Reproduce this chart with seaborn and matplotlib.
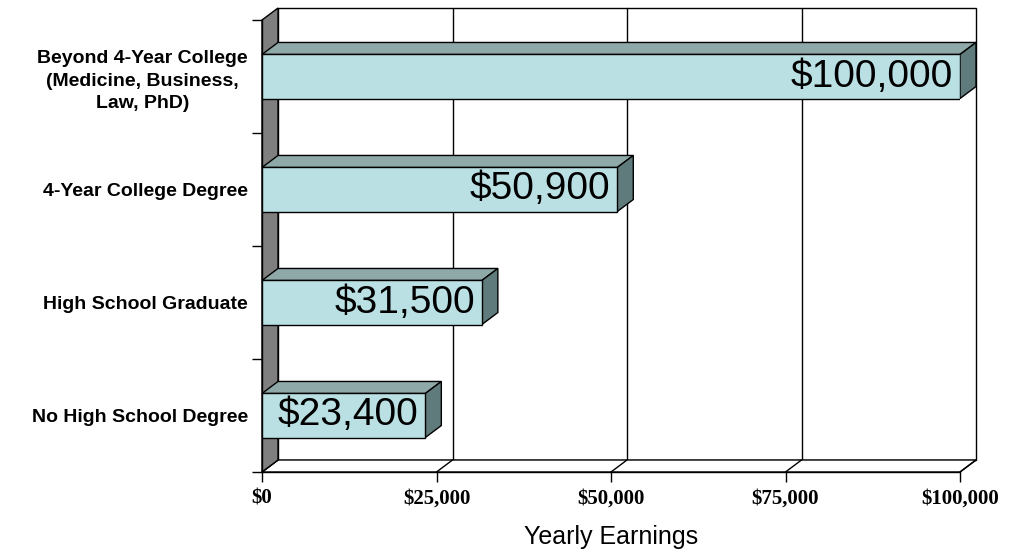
import matplotlib
matplotlib.use("Agg")
import matplotlib.pyplot as plt
import seaborn as sns
import pandas as pd
from matplotlib.patches import Polygon, Rectangle

# Yearly earnings by level of education
categories = [
    "Beyond 4-Year College\n(Medicine, Business,\nLaw, PhD)",
    "4-Year College Degree",
    "High School Graduate",
    "No High School Degree",
]
earnings = [100000, 50900, 31500, 23400]
value_labels = ["$100,000", "$50,900", "$31,500", "$23,400"]
tick_values = [0, 25000, 50000, 75000, 100000]
tick_labels = ["$0", "$25,000", "$50,000", "$75,000", "$100,000"]

FRONT = "#bae0e4"
TOP = "#8fa9a9"
SIDE = "#5f7b7b"
WALL = "#7f7f7f"

sns.set_theme(style="white")
plt.rcParams["font.family"] = ["Liberation Sans", "DejaVu Sans"]
plt.rcParams["text.color"] = "black"
plt.rcParams["xtick.color"] = "black"
plt.rcParams["ytick.color"] = "black"
plt.rcParams["axes.labelcolor"] = "black"

W, H = 1019, 559
fig = plt.figure(figsize=(W / 100, H / 100), dpi=100)
ax_l, ax_r, ax_t, ax_b = 262, 960, 20, 472
ax = fig.add_axes([ax_l / W, (H - ax_b) / H, (ax_r - ax_l) / W, (ax_b - ax_t) / H])

df = pd.DataFrame({"category": categories, "earnings": earnings})
sns.barplot(data=df, x="earnings", y="category", orient="h", color=FRONT,
            saturation=1, edgecolor="black", linewidth=1, width=0.39, ax=ax)
bars = list(ax.patches)

ax.set_xlim(0, 100000)
ax.set_ylim(3.5, -0.5)

# depth of the 3-D box, converted from pixels to data units
DX = 16 / (ax_r - ax_l) * 100000
DY = -12 / (ax_b - ax_t) * 4.0
y_top, y_bot = -0.5, 3.5
x_max = 100000

# back wall with its gridlines
ax.add_patch(Rectangle((DX, y_top + DY), x_max, 4.0, facecolor="white",
                       edgecolor="black", linewidth=1, clip_on=False, zorder=0.5))
for v in tick_values[1:-1]:
    ax.plot([v + DX, v + DX], [y_top + DY, y_bot + DY], color="black",
            linewidth=1, clip_on=False, zorder=0.6)

# floor
ax.add_patch(Polygon([(0, y_bot), (x_max, y_bot), (x_max + DX, y_bot + DY), (DX, y_bot + DY)],
                     closed=True, facecolor="white", edgecolor="black", linewidth=1,
                     clip_on=False, zorder=0.7))
for v in tick_values:
    ax.plot([v, v + DX], [y_bot, y_bot + DY], color="black", linewidth=1,
            clip_on=False, zorder=0.8)

# left side wall
ax.add_patch(Polygon([(0, y_top), (0, y_bot), (DX, y_bot + DY), (DX, y_top + DY)],
                     closed=True, facecolor=WALL, edgecolor="black", linewidth=1,
                     clip_on=False, zorder=0.9))

# extrude each bar: top face and right side face
for p, lab in zip(bars, value_labels):
    x0, w = p.get_x(), p.get_width()
    y0, h = p.get_y(), p.get_height()
    p.set_zorder(5)
    ax.add_patch(Polygon([(x0, y0), (x0 + w, y0), (x0 + w + DX, y0 + DY), (x0 + DX, y0 + DY)],
                         closed=True, facecolor=TOP, edgecolor="black", linewidth=1,
                         clip_on=False, zorder=4))
    ax.add_patch(Polygon([(x0 + w, y0), (x0 + w, y0 + h), (x0 + w + DX, y0 + h + DY),
                          (x0 + w + DX, y0 + DY)],
                         closed=True, facecolor=SIDE, edgecolor="black", linewidth=1,
                         clip_on=False, zorder=4))
    ax.annotate(lab, xy=(x0 + w, y0 + h / 2), xytext=(-5, 0), textcoords="offset points",
                ha="right", va="center", fontsize=28, color="black", zorder=6)

# axes styling
for s in ("top", "right"):
    ax.spines[s].set_visible(False)
for s in ("left", "bottom"):
    ax.spines[s].set_color("black")
    ax.spines[s].set_linewidth(1)
    ax.spines[s].set_zorder(3)

ax.set_xticks(tick_values)
ax.set_xticklabels(tick_labels, family=["Liberation Serif", "DejaVu Serif"],
                   fontweight="bold", fontsize=15, color="black")
ax.tick_params(axis="x", which="major", bottom=True, length=7, width=1,
               color="black", pad=5)

ax.set_yticks(range(len(categories)))
ax.set_yticklabels(categories, fontweight="bold", fontsize=14, linespacing=1.4,
                   multialignment="center", color="black")
ax.tick_params(axis="y", which="major", left=False, length=0, pad=10)
ax.set_yticks([-0.5, 0.5, 1.5, 2.5, 3.5], minor=True)
ax.tick_params(axis="y", which="minor", left=True, length=7, width=1, color="black")

ax.set_ylabel("")
ax.set_xlabel("Yearly Earnings", fontsize=18, labelpad=12, color="black")
ax.set_facecolor("white")

fig.savefig("out.png", dpi=100, facecolor="white")
